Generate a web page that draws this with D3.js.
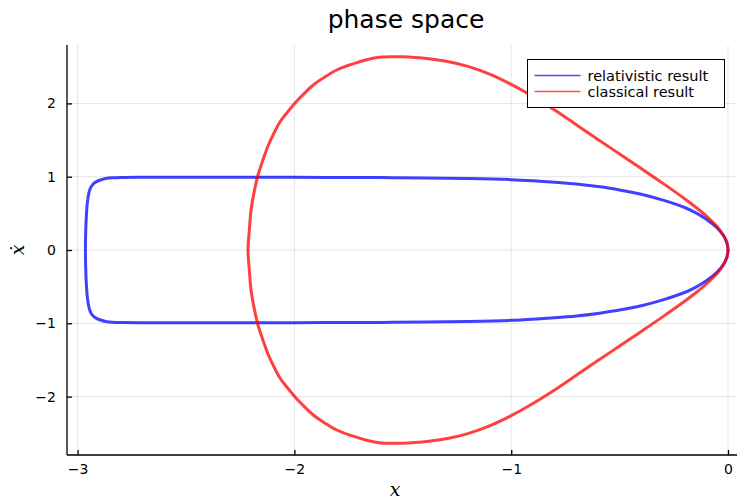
<!DOCTYPE html>
<html>
<head>
<meta charset="utf-8">
<script src="https://cdn.jsdelivr.net/npm/d3@7"></script>
<style>
body { margin: 0; background: #fff; }
svg { display: block; font-family: "DejaVu Sans", sans-serif; }
</style>
</head>
<body>
<svg id="chart" width="737" height="499"></svg>
<script>
// relativistic result, closed loop (upper branch right->left, lower branch left->right)
var relX = [0, -0.005, -0.02, -0.05, -0.1, -0.15, -0.2, -0.3, -0.4, -0.5, -0.6, -0.7, -0.8, -0.9, -1.0, -1.2, -1.4, -1.6, -1.8, -2.0, -2.3, -2.6, -2.7, -2.79, -2.84, -2.87, -2.895, -2.915, -2.93, -2.94, -2.948, -2.955, -2.959, -2.962,
  -2.964,
  -2.962, -2.959, -2.955, -2.948, -2.94, -2.93, -2.915, -2.895, -2.87, -2.84, -2.79, -2.7, -2.6, -2.3, -2.0, -1.8, -1.6, -1.4, -1.2, -1.0, -0.9, -0.8, -0.7, -0.6, -0.5, -0.4, -0.3, -0.2, -0.15, -0.1, -0.05, -0.02, -0.005];
var relV = [0, 0.097, 0.19, 0.30, 0.42, 0.51, 0.58, 0.68, 0.76, 0.82, 0.865, 0.90, 0.925, 0.945, 0.96, 0.975, 0.983, 0.988, 0.99, 0.992, 0.993, 0.993, 0.992, 0.99, 0.985, 0.975, 0.955, 0.93, 0.895, 0.85, 0.78, 0.65, 0.5, 0.32,
  0,
  -0.32, -0.5, -0.65, -0.78, -0.85, -0.895, -0.93, -0.955, -0.975, -0.985, -0.99, -0.992, -0.993, -0.993, -0.992, -0.99, -0.988, -0.983, -0.975, -0.96, -0.945, -0.925, -0.90, -0.865, -0.82, -0.76, -0.68, -0.58, -0.51, -0.42, -0.30, -0.19, -0.097];

// classical result, closed loop
var clsX = [0, -0.005, -0.02, -0.05, -0.1, -0.15, -0.2, -0.3, -0.4, -0.5, -0.6, -0.7, -0.8, -0.9, -1.0, -1.1, -1.2, -1.3, -1.4, -1.5, -1.55, -1.6, -1.667, -1.74, -1.805, -1.86, -1.913, -1.96, -1.997, -2.035, -2.066, -2.095, -2.12, -2.145, -2.168, -2.186, -2.2, -2.208,
  -2.214,
  -2.208, -2.2, -2.186, -2.168, -2.145, -2.12, -2.095, -2.066, -2.035, -1.997, -1.96, -1.913, -1.86, -1.805, -1.74, -1.667, -1.6, -1.55, -1.5, -1.4, -1.3, -1.2, -1.1, -1.0, -0.9, -0.8, -0.7, -0.6, -0.5, -0.4, -0.3, -0.2, -0.15, -0.1, -0.05, -0.02, -0.005];
var clsV = [0, 0.097, 0.197, 0.318, 0.464, 0.587, 0.70, 0.909, 1.111, 1.31, 1.509, 1.71, 1.91, 2.095, 2.26, 2.40, 2.505, 2.575, 2.615, 2.635, 2.638, 2.632, 2.595, 2.53, 2.456, 2.36, 2.251, 2.12, 2.006, 1.87, 1.75, 1.59, 1.432, 1.23, 1.023, 0.79, 0.546, 0.273,
  0,
  -0.273, -0.546, -0.79, -1.023, -1.23, -1.432, -1.59, -1.75, -1.87, -2.006, -2.12, -2.251, -2.36, -2.456, -2.53, -2.595, -2.632, -2.638, -2.635, -2.615, -2.575, -2.505, -2.40, -2.26, -2.095, -1.91, -1.71, -1.509, -1.31, -1.111, -0.909, -0.70, -0.587, -0.464, -0.318, -0.197, -0.097];

var xTicks = [-3, -2, -1, 0];
var yTicks = [-2, -1, 0, 1, 2];
var seriesNames = ["relativistic result", "classical result"];
var seriesColors = ["#0000ff", "#ff0000"];

var svg = d3.select("#chart"),
margin = {top: 45, right: 0, bottom: 44, left: 67},
width = +svg.attr("width") - margin.left - margin.right,
height = +svg.attr("height") - margin.top - margin.bottom;

var x = d3.scaleLinear().domain([-3.049, 0.0415]).range([0, width]);
var y = d3.scaleLinear().domain([-2.797, 2.797]).range([height, 0]);

var g = svg.append("g").attr("transform", "translate(" + margin.left + "," + margin.top + ")");

// grid
g.selectAll(".vgrid").data(xTicks).enter().append("line")
    .attr("x1", function(d) { return x(d); }).attr("x2", function(d) { return x(d); })
    .attr("y1", 0).attr("y2", height)
    .attr("stroke", "#000").attr("stroke-opacity", 0.1).attr("stroke-width", 1);
g.selectAll(".hgrid").data(yTicks).enter().append("line")
    .attr("x1", 0).attr("x2", width)
    .attr("y1", function(d) { return y(d); }).attr("y2", function(d) { return y(d); })
    .attr("stroke", "#000").attr("stroke-opacity", 0.1).attr("stroke-width", 1);

var line = d3.line()
    .x(function(d) { return x(d[0]); })
    .y(function(d) { return y(d[1]); })
    .curve(d3.curveCatmullRomClosed);

var series = [d3.zip(relX, relV), d3.zip(clsX, clsV)];

g.selectAll(".curve").data(series).enter().append("path")
    .attr("class", "curve")
    .attr("d", line)
    .attr("fill", "none")
    .attr("stroke", function(d, i) { return seriesColors[i]; })
    .attr("stroke-opacity", 0.75)
    .attr("stroke-width", 3)
    .attr("stroke-linejoin", "round");

// axes
var xAxis = g.append("g")
    .attr("transform", "translate(0," + height + ")")
    .call(d3.axisBottom(x).tickValues(xTicks).tickSize(-5).tickPadding(9).tickFormat(d3.format("d")));
var yAxis = g.append("g")
    .call(d3.axisLeft(y).tickValues(yTicks).tickSize(-5).tickPadding(11).tickFormat(d3.format("d")));

[xAxis, yAxis].forEach(function(a) {
    a.select(".domain").attr("stroke", "#000").attr("stroke-width", 1.3);
    a.selectAll(".tick line").attr("stroke", "#000").attr("stroke-width", 1.3);
    a.selectAll(".tick text").attr("font-family", "DejaVu Sans").attr("font-size", 14).attr("fill", "#000");
});
xAxis.select(".domain").attr("d", "M0,0H" + width);
yAxis.select(".domain").attr("d", "M0,0V" + height);

// title and axis labels
svg.append("text")
    .attr("x", 406).attr("y", 28)
    .attr("text-anchor", "middle")
    .attr("font-size", 25)
    .text("phase space");

svg.append("text")
    .attr("x", 395).attr("y", 496)
    .attr("text-anchor", "middle")
    .attr("font-family", "DejaVu Serif")
    .attr("font-style", "italic")
    .attr("font-size", 19)
    .text("x");

svg.append("text")
    .attr("transform", "translate(24,250) rotate(-90)")
    .attr("text-anchor", "middle")
    .attr("font-family", "DejaVu Serif")
    .attr("font-style", "italic")
    .attr("font-size", 19)
    .text("x\u0307");

// legend
var legend = svg.append("g").attr("transform", "translate(527.5,59.5)");
legend.append("rect")
    .attr("width", 197).attr("height", 48)
    .attr("fill", "#fff").attr("stroke", "#000").attr("stroke-width", 1);
seriesNames.forEach(function(name, i) {
    var ly = 16 + i * 16;
    legend.append("path")
        .attr("d", "M7," + ly + "H53")
        .style("stroke", seriesColors[i])
        .style("stroke-opacity", 0.7)
        .style("stroke-width", 1.6)
        .style("fill", "none");
    legend.append("text")
        .attr("x", 60).attr("y", ly)
        .attr("dy", "0.35em")
        .attr("font-size", 14.5)
        .text(name);
});
</script>
</body>
</html>
